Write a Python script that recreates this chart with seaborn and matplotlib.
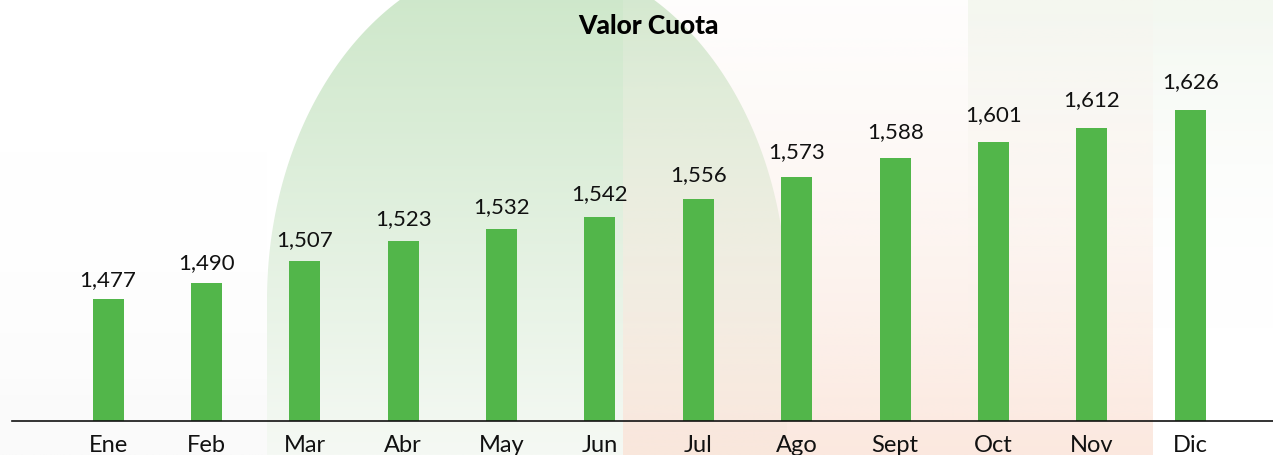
import numpy as np
import matplotlib
matplotlib.use("Agg")
import matplotlib.pyplot as plt
import seaborn as sns
from matplotlib.colors import to_rgb
from matplotlib.path import Path
from matplotlib.patches import PathPatch

meses = ['Ene', 'Feb', 'Mar', 'Abr', 'May', 'Jun', 'Jul', 'Ago', 'Sept', 'Oct', 'Nov', 'Dic']
valor_cuota = [1.477, 1.490, 1.507, 1.523, 1.532, 1.542, 1.556, 1.573, 1.588, 1.601, 1.612, 1.626]
etiquetas = ['1,477', '1,490', '1,507', '1,523', '1,532', '1,542', '1,556', '1,573', '1,588', '1,601', '1,612', '1,626']

W, H = 1273, 455
sns.set_theme(style='white')
plt.rcParams['font.family'] = ['Lato', 'DejaVu Sans']

fig = plt.figure(figsize=(W / 100, H / 100), dpi=100)
fig.patch.set_facecolor('white')

# fondo decorativo en coordenadas de pixel
bg = fig.add_axes([0, 0, 1, 1], zorder=0)
bg.set_xlim(0, W)
bg.set_ylim(H, 0)
bg.axis('off')


def vgrad(c_top, c_bot, a_top=1.0, a_bot=1.0, n=256):
    t = np.linspace(0, 1, n)[:, None]
    top = np.array(list(to_rgb(c_top)) + [a_top])
    bot = np.array(list(to_rgb(c_bot)) + [a_bot])
    return (top * (1 - t) + bot * t)[:, None, :]


# leve gris abajo a la izquierda
bg.imshow(vgrad('#ffffff', '#fafafa', 0, 1), extent=[0, 267, H, 150],
          aspect='auto', interpolation='bilinear')

# arco verde
cx, cy, a, b = 527, 300, 260, 344
th = np.linspace(np.pi, 0, 200)
pts = np.column_stack([cx + a * np.cos(th), cy - b * np.sin(th)])
pts = np.vstack([[cx - a, H + 5], pts, [cx + a, H + 5], [cx - a, H + 5]])
arch = PathPatch(Path(pts, closed=True), facecolor='none', edgecolor='none')
bg.add_patch(arch)
im = bg.imshow(vgrad('#cbe6c7', '#f5f9f4'), extent=[cx - a, cx + a, H, -45],
               aspect='auto', interpolation='bilinear')
im.set_clip_path(arch)

# franja verde clara arriba a la derecha
bg.imshow(vgrad('#f3f8f0', '#ffffff', 1, 0), extent=[968, W, 330, 0],
          aspect='auto', interpolation='bilinear')

# rectangulo durazno
bg.imshow(vgrad('#fbf3ee', '#fbe3d7', 0.15, 0.8), extent=[623, 1153, H, 0],
          aspect='auto', interpolation='bilinear')

# grafico principal
ax = fig.add_axes([12 / W, (H - 421) / H, 1 - 12 / W, 421 / H], zorder=1)
ax.patch.set_alpha(0)
sns.barplot(x=meses, y=valor_cuota, color='#52b64a', width=0.315, saturation=1,
            linewidth=0, ax=ax)

px = (1.626 - 1.477) / 189.0
base = 1.477 - 122 * px
ax.set_ylim(base, base + 421 * px)
ax.set_xlim(-0.976, 11.84)

vmin, vmax = min(valor_cuota), max(valor_cuota)
for i, (v, t) in enumerate(zip(valor_cuota, etiquetas)):
    off = 9 + 7 * (v - vmin) / (vmax - vmin)
    ax.annotate(t, (i, v), xytext=(0, off), textcoords='offset points',
                ha='center', va='baseline', fontsize=16, color='#111111')

for s in ['top', 'right', 'left']:
    ax.spines[s].set_visible(False)
ax.spines['bottom'].set_color('#111111')
ax.spines['bottom'].set_linewidth(1.2)
ax.set_yticks([])
ax.set_xlabel('')
ax.set_ylabel('')
ax.tick_params(axis='x', length=0, pad=10, labelsize=17, labelcolor='#111111')

fig.text(648 / W, 1 - 26 / H, 'Valor Cuota', ha='center', va='center',
         fontsize=19, fontweight='black', color='#000000')

fig.savefig('out.png', dpi=100)
